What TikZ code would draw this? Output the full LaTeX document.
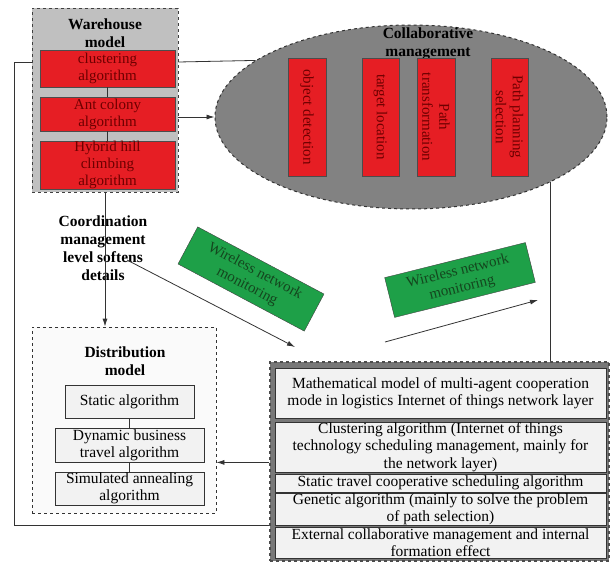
\documentclass[tikz,border=0pt]{standalone}
\usepackage{fontspec}
\setmainfont{Liberation Serif}
\usetikzlibrary{shapes.geometric,arrows.meta}

\definecolor{boxred}{RGB}{230,30,36}
\definecolor{txtred}{RGB}{110,0,0}
\definecolor{whgray}{RGB}{192,192,192}
\definecolor{elgray}{RGB}{130,130,130}
\definecolor{netgray}{RGB}{120,120,120}
\definecolor{wlgreen}{RGB}{30,160,72}
\definecolor{txtgreen}{RGB}{20,70,30}
\definecolor{algfill}{RGB}{242,242,242}

\tikzset{
  whbox/.style={draw=black!75, dashed, line width=0.9pt, fill=whgray},
  distbox/.style={draw=black!80, dashed, line width=0.8pt, fill=black!2},
  netbox/.style={draw=black!70, dashed, line width=1.2pt, fill=netgray},
  ttl/.style={font=\bfseries\fontsize{15.5}{18}\selectfont, align=center, inner sep=0pt},
  redbox/.style={draw=black!70, fill=boxred, text=txtred, align=center, inner sep=0pt,
    font=\fontsize{15}{17}\selectfont},
  vredbox/.style={redbox, rotate=-90, font=\fontsize{15}{17}\selectfont},
  greenbox/.style={draw=black!75, fill=wlgreen, text=txtgreen, align=center, inner sep=0pt,
    font=\fontsize{15}{17}\selectfont},
  algbox/.style={draw=black!80, line width=0.8pt, fill=algfill, align=center, inner sep=0pt,
    font=\fontsize{15.5}{17.3}\selectfont},
  link/.style={draw=black!80, line width=0.8pt},
  arr/.style={link, -{Latex[length=8pt,width=5pt]}}
}

\begin{document}
\begin{tikzpicture}[x=1pt,y=-1pt]
  \useasboundingbox (0,0) rectangle (610,562);

  %%% warehouse model
  \node[whbox, minimum width=146pt, minimum height=184pt] (wh) at (105,100) {};
  \node[ttl] (whttl) at (105,33) {Warehouse\\model};
  \node[redbox, minimum width=135pt, minimum height=37pt] (clus) at (107.5,68.5) {clustering\\algorithm};
  \node[redbox, minimum width=135pt, minimum height=34pt] (ant) at (107.5,114) {Ant colony\\algorithm};
  \node[redbox, minimum width=135pt, minimum height=46pt] (hyb) at (107.5,165) {Hybrid hill\\climbing\\algorithm};
  \draw[link] (clus) -- (ant);
  \draw[link] (ant) -- (hyb);

  %%% collaborative management
  \node[ellipse, draw=black!80, dashed, line width=1pt, fill=elgray,
    minimum width=392pt, minimum height=184pt] (ell) at (411,117) {};
  \node[ttl] (elttl) at (428,44) {Collaborative\\management};
  \node[vredbox, minimum width=118pt, minimum height=38pt] (objd) at (307,117) {object detection};
  \node[vredbox, minimum width=118pt, minimum height=37pt] (tloc) at (380.5,117) {target location};
  \node[vredbox, minimum width=118pt, minimum height=38pt] (ptr) at (436,117) {Path\\transformation};
  \node[vredbox, minimum width=118pt, minimum height=37pt] (ppl) at (509.5,117) {Path planning\\selection};

  %%% coordination
  \node[ttl] (coord) at (103,248) {Coordination\\management\\level softens\\details};
  \node[greenbox, rotate=-28, minimum width=143pt, minimum height=42pt] (wn1) at (251,279) {Wireless network\\monitoring};
  \node[greenbox, rotate=14, minimum width=145pt, minimum height=41pt] (wn2) at (460,280) {Wireless network\\monitoring};
  \coordinate (a1s) at (127,260);
  \coordinate (a1e) at (295,347);
  \coordinate (a2s) at (385,342);
  \coordinate (a2e) at (538,300);
  \draw[arr] (a1s) -- (a1e);
  \draw[arr] (a2s) -- (a2e);

  %%% distribution model
  \node[distbox, minimum width=184pt, minimum height=186pt] (dist) at (124,420) {};
  \node[ttl] (dittl) at (125,361) {Distribution\\model};
  \node[algbox, minimum width=129pt, minimum height=33pt] (stat) at (129.5,401.5) {Static algorithm};
  \node[algbox, minimum width=149pt, minimum height=34pt] (dyn) at (129.5,445) {Dynamic business\\travel algorithm};
  \node[algbox, minimum width=149pt, minimum height=33pt] (sim) at (129.5,488.5) {Simulated annealing\\algorithm};
  \draw[link] (stat) -- (dyn);
  \draw[link] (dyn) -- (sim);

  %%% network layer
  \node[netbox, minimum width=339pt, minimum height=199pt] (net) at (439.5,461.5) {};
  \node[algbox, minimum width=331pt, minimum height=50pt] (m1) at (440.5,393) {Mathematical model of multi-agent cooperation\\mode in logistics Internet of things network layer};
  \node[algbox, minimum width=331pt, minimum height=50pt] (m2) at (440.5,447) {Clustering algorithm (Internet of things\\technology scheduling management, mainly for\\the network layer)};
  \node[algbox, minimum width=331pt, minimum height=18pt] (m3) at (440.5,483) {Static travel cooperative scheduling algorithm};
  \node[algbox, minimum width=331pt, minimum height=32pt] (m4) at (440.5,509) {Genetic algorithm (mainly to solve the problem\\of path selection)};
  \node[algbox, minimum width=331pt, minimum height=31pt] (m5) at (440.5,542.5) {External collaborative management and internal\\formation effect};

  %%% connectors
  \coordinate (lp) at (14,62);
  \draw[link] (wh.east |- lp) -- (ell.160.7);
  \draw[arr] (wh.east |- ell.west) -- (ell.west);
  \draw[arr] (wh.south) -- (wh.south |- dist.north);
  \draw[link] (wh.west |- lp) -- (lp) |- (net.west |- m4.south);
  \draw[link] (ell.-25.7) -- (ell.-25.7 |- net.north);
  \draw[arr] (net.west |- dyn.south) -- (dist.east |- dyn.south);
\end{tikzpicture}
\end{document}
